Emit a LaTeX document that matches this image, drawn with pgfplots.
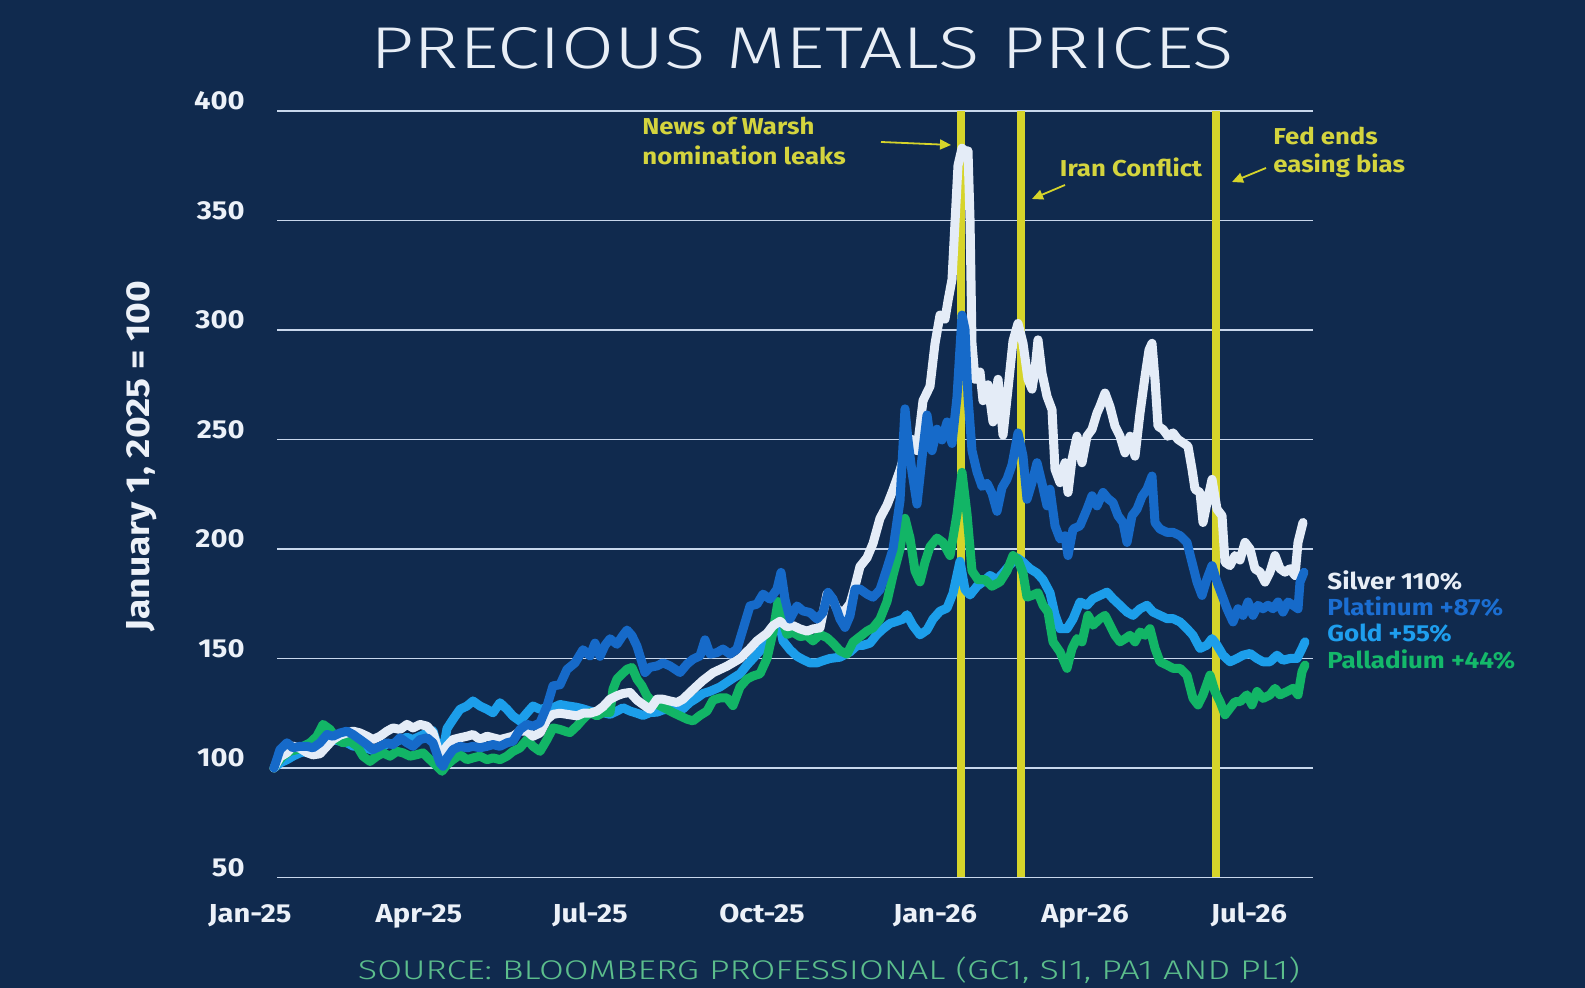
\documentclass[border=0pt]{standalone}
\usepackage{fontspec}
\usepackage{graphicx}
\usepackage{pgfplots}
\pgfplotsset{compat=1.18}
\usetikzlibrary{arrows.meta}
\setmainfont{Fira Sans}
\newfontfamily\bfam[FakeStretch=1.12]{Fira Sans}
\newfontfamily\lfam{Fira Sans Light}

\definecolor{bg}{RGB}{16,42,78}
\definecolor{gridcol}{RGB}{200,215,236}
\definecolor{silver}{RGB}{228,236,247}
\definecolor{platinum}{RGB}{22,106,201}
\definecolor{gold}{RGB}{28,158,234}
\definecolor{palladium}{RGB}{18,181,102}
\definecolor{ylw}{RGB}{214,212,42}
\definecolor{ylwtxt}{RGB}{212,212,62}
\definecolor{srcgreen}{RGB}{92,190,140}
\definecolor{titlecol}{RGB}{232,238,246}
\definecolor{tickcol}{RGB}{236,241,248}
\definecolor{pttxt}{RGB}{27,110,210}
\definecolor{gdtxt}{RGB}{30,158,238}
\definecolor{pdtxt}{RGB}{20,184,106}

\pgfplotstableread{
x v
274 100
280 108.4
287 111.5
293 109.2
300 109.9
307 109.9
313 109.2
320 111.5
327 115.3
333 114.5
340 116
347 116.8
353 115.3
360 113
367 110.7
373 108.4
380 109.9
387 111.5
393 110.7
400 113.8
407 111.5
413 109.9
420 113
427 113.8
433 111.5
440 102.3
443 100.8
447 104.6
453 108.4
460 109.9
467 109.2
473 109.9
480 109.2
487 109.9
493 110.7
500 109.9
507 111.5
513 112.2
520 117.6
527 119.9
533 119.1
540 120.6
547 128.3
553 137.5
560 138
567 145
575 148
583 154
590 151.2
595 157
600 151
605 156
610 159
617 156.5
622 160
627 163
632 160.4
637 155.6
645 143.6
650 146
657 146.6
663 148
670 146.6
680 143.6
687 147.4
693 149.7
700 151.2
705 158.5
710 152
717 152.7
723 154.3
730 152
737 154.3
743 163.4
750 174
757 174.8
763 179.4
770 177.1
777 181.7
781 189.3
785 177.1
790 168
797 174
803 171.7
810 171
817 168
823 171
828 180.2
833 177.1
840 168
845 164.2
850 169.5
855 181.7
860 181.7
867 179.4
873 178
880 181.4
887 191.2
893 200
900 222
905 264
908 249.8
912 235.2
917 220.5
922 241.6
927 261.2
932 244.9
937 254.7
942 249.8
947 258
952 248.2
957 269.4
962 306.8
965 300.3
968 269.4
972 244.9
977 235.2
982 228.6
987 230
992 225.4
997 217.2
1002 228
1007 231.9
1012 238.4
1018 253
1023 242.4
1027 222.7
1032 230.3
1037 239.4
1042 230
1047 219.7
1050 227.3
1055 210.6
1060 204.6
1065 206
1068 197
1073 209.1
1080 210.6
1087 218.2
1092 224.3
1097 219.7
1103 225.8
1108 223
1113 221.2
1118 215.2
1123 212.1
1127 203
1132 215.2
1137 218.2
1142 224
1147 227.3
1152 233.3
1155 212.1
1160 209.1
1167 207.6
1173 207.6
1180 206.1
1187 203
1192 193.9
1197 184.9
1202 178.8
1207 186.4
1212 192.4
1217 184.9
1222 178.8
1227 172.7
1233 166.7
1238 172.7
1243 169.7
1248 175.8
1253 169.7
1258 174.3
1263 172.7
1268 174.3
1273 172.7
1278 175.8
1283 171.2
1288 175.8
1293 174.3
1298 172.7
1300 184.9
1304 189.4
}\platinumdata

\pgfplotstableread{
x v
274 100
280 102.3
287 103.8
293 105.4
300 106.9
307 107.6
313 108.4
320 110.7
327 112.2
333 113
340 112.2
347 111.5
353 110
360 110
367 109
373 108
380 109
387 111
393 111
400 113
407 114
413 113
420 114.5
427 116
433 117
440 106
443 108
447 118
453 122.2
460 126.8
467 128.3
473 130.6
480 128.3
487 126.8
493 125.2
500 129.8
507 126.8
513 123.7
520 121.4
527 125.2
533 128.3
540 126.8
547 127.5
553 127.5
560 129
567 128.4
577 127.7
583 127
590 126
597 125.5
603 125.3
610 124.5
617 126
623 127.5
630 126
637 125
643 124
650 125.3
657 125.5
663 126.5
670 127
677 128.4
683 127
690 130
697 132
703 134
710 135
720 137
733 141
740 143
747 147
757 152
767 157
773 162
778 170
783 158
790 154
797 151
803 149.5
810 148
817 148
823 149
830 150
840 150.6
850 153
857 155.9
863 156
870 157
877 161
883 163.5
890 166
897 167
903 168
907 170
913 165
920 160.8
927 163
933 168
940 171.6
947 173
953 179.8
960 194.4
965 181.5
970 179
977 183
983 185
990 187.9
997 186
1003 189
1010 192.8
1017 196
1023 194
1030 191
1037 189
1043 186
1050 180
1055 170
1060 163.6
1067 163.6
1073 168
1080 175.8
1087 174.3
1093 177.3
1100 178.8
1107 180.3
1113 177.3
1120 174.3
1127 171.2
1133 169.7
1140 172.7
1147 174.3
1153 171.2
1160 169.7
1167 168.2
1173 168.2
1180 166.7
1187 163.6
1193 160.6
1200 154.6
1207 156.1
1212 159.1
1217 156.1
1223 151.5
1230 148.5
1237 150
1243 151.5
1250 152.3
1257 150
1263 148.5
1270 148.5
1277 151.5
1283 149.2
1290 150
1297 150
1302 154.6
1305 157.6
}\golddata

\pgfplotstableread{
x v
274 100
280 105
287 107
293 110
300 109
307 107
313 106
320 106.5
327 110
333 113
340 115
347 116
353 116.8
360 116
367 114.5
373 113
380 114.5
387 116.8
393 118.3
400 117.6
407 119.9
413 118.3
420 119.9
427 119.1
433 116
440 105.4
447 110
453 113
460 113.8
467 114.5
473 115.3
480 113
487 114.5
493 113.8
500 113
507 113.8
513 114.5
520 116.8
527 116.8
533 114.5
540 116
547 122.2
553 124.5
560 125
567 124.5
577 123.8
583 125
590 125
597 126
603 128
610 131.4
617 133
623 134
630 134.5
637 131
643 129
650 126.8
657 131.4
663 131.4
670 130.6
677 129.9
683 131.4
690 134.5
697 137.5
703 140
713 143.5
727 146.5
740 150
750 154.5
757 158
767 161.5
773 165
780 167
787 164.5
793 165
800 163.5
807 162.5
813 163.5
820 164
827 179.5
832 177.5
837 172.6
843 170.8
850 175
855 183
860 192
867 196
873 202.5
880 214
887 220
893 227
900 236
907 247
912 250
917 244.9
923 267.7
930 274.3
935 293.8
940 306.8
945 305
948 313.3
952 323.1
955 349.2
958 375.2
962 383
965 381.8
968 381.8
970 350.8
972 293.8
975 277.5
980 280.8
983 267.7
988 275
993 258
998 277.5
1003 252
1008 273
1013 295
1018 303
1023 294
1028 277.5
1032 273
1035 281.8
1038 295.5
1042 280.3
1047 269.7
1052 263.6
1055 236.4
1060 230.3
1065 239.4
1068 225.8
1072 240.9
1077 251.5
1082 239.4
1087 251.5
1092 254.6
1097 262.1
1100 265.2
1105 271.2
1110 265
1115 256.1
1120 251.5
1125 243.9
1130 251.5
1135 242.4
1140 262.1
1145 278.8
1149 290.9
1152 293.9
1155 277.3
1158 256.1
1163 254.6
1168 251.5
1173 253
1178 250
1183 248.5
1188 246.9
1192 236.4
1195 227.3
1200 225.8
1203 212.1
1207 221.2
1212 231.8
1217 218.2
1222 215.2
1225 193.9
1230 192.4
1235 197
1240 195
1245 203
1250 200
1255 190.9
1260 189.5
1265 184.9
1270 189.5
1275 197
1280 191
1285 189.4
1290 191
1295 187.9
1298 203
1303 212.1
}\silverdata

\pgfplotstableread{
x v
274 100
277 102.3
283 105.4
290 107.6
297 108.4
303 109.9
310 111.5
317 114.5
323 119.9
330 117.6
337 113
343 111.5
350 112.2
357 110
363 105.4
370 103
377 105.4
383 106.9
390 105.4
397 107.6
403 106.9
410 105.4
417 106.1
423 106.9
430 103.8
437 100.8
442 98.5
447 101.5
453 103.8
460 106.1
467 103.8
473 104.6
480 105.4
487 103.8
493 104.6
500 103.8
507 105.4
513 107.6
520 109.2
527 113
533 109.9
540 107.6
547 113
553 118.3
560 117.6
567 116.5
570 116.2
577 119.2
583 122.3
590 125.3
597 123.8
603 125.3
610 125.3
613 136
617 140.6
620 142
627 145.1
632 145.9
637 140.6
642 137.5
647 132.9
653 129.9
660 128.4
667 126.8
673 125.3
680 123.8
687 122.3
693 121.5
700 124
707 126
713 131
720 132
727 132
733 128.5
740 137
747 140.6
753 142
760 143
767 150
773 162
778 176
782 168
787 161
793 162
800 160
807 160.5
813 158
820 161
827 159.5
833 157
840 153.5
847 152
853 157.5
860 160
867 162.5
873 164
880 168
887 176
893 188
900 200
905 214
910 205
915 190
920 185
925 194
930 201
937 205
943 203
950 197
957 216
962 235
967 216
972 190
978 186
985 186
992 183
1000 185
1007 190
1013 197
1018 195
1023 189
1027 178
1033 179
1038 180
1043 174.3
1048 171.2
1053 157.6
1060 153
1067 145.5
1072 154.6
1077 159.1
1082 157.6
1088 169.7
1093 165.2
1100 168.2
1105 169.7
1110 165.2
1115 160.6
1120 157.6
1125 159
1130 160.6
1135 157.6
1140 162.1
1145 160.6
1150 163.6
1155 154.6
1160 148.5
1167 147
1173 145.5
1180 145.5
1187 142.4
1193 131.8
1198 128.8
1203 133.4
1210 142.4
1215 134.9
1220 130.3
1225 124.3
1230 127.3
1235 130.3
1240 130.3
1247 133.4
1252 128.8
1257 134.9
1263 131.8
1270 133.4
1275 136.4
1280 133.4
1287 134.9
1293 136.4
1298 133.4
1302 144
1305 147
}\palladiumdata

\begin{document}
\begin{tikzpicture}
\path[use as bounding box, fill=bg] (0,0) rectangle (792.5pt,494pt);
\begin{axis}[
  at={(138.5pt,55.25pt)}, anchor=south west,
  scale only axis, width=518pt, height=383.25pt,
  xmin=277, xmax=1313, ymin=50, ymax=400,
  clip=false,
  axis line style={draw=none},
  major tick length=0pt,
  xtick=\empty,
  ytick={50,100,150,200,250,300,350,400},
  ymajorgrids=true,
  grid style={line width=0.75pt, draw=gridcol},
  /pgf/number format/assume math mode=true,
  yticklabel style={font=\bfam\bfseries\fontsize{13}{15}\selectfont, text=tickcol,
    anchor=base east, inner sep=0pt, xshift=-16pt, yshift=0.5pt},
  every axis plot/.append style={line width=4.5pt, line join=round, line cap=round},
]
\draw[ylw, line width=3.8pt] (961,50) -- (961,400);
\draw[ylw, line width=3.8pt] (1021,50) -- (1021,400);
\draw[ylw, line width=3.8pt] (1216,50) -- (1216,400);
\addplot[gold] table[x=x,y=v] {\golddata};
\addplot[palladium] table[x=x,y=v] {\palladiumdata};
\addplot[silver] table[x=x,y=v] {\silverdata};
\addplot[platinum] table[x=x,y=v] {\platinumdata};
\end{axis}

% x tick labels
\begin{scope}[every node/.style={anchor=base, inner sep=0pt, text=tickcol,
   font=\bfam\bfseries\fontsize{13}{15}\selectfont}]
\node at (125pt,32.5pt) {Jan-25};
\node at (209.5pt,32.5pt) {Apr-25};
\node at (295pt,32.5pt) {Jul-25};
\node at (381pt,32.5pt) {Oct-25};
\node at (467.5pt,32.5pt) {Jan-26};
\node at (542.5pt,32.5pt) {Apr-26};
\node at (624.5pt,32.5pt) {Jul-26};
\end{scope}

% y axis label
\node[rotate=90, inner sep=0pt, text=tickcol, font=\bfam\bfseries\fontsize{16.6}{19}\selectfont]
  at (71pt,266pt) {January 1, 2025 = 100};

% title
\node[inner sep=0pt, text=titlecol] at (401pt,469.6pt)
  {\resizebox{432pt}{\height}{\lfam\fontsize{29.5}{32}\selectfont PRECIOUS METALS PRICES}};

% source
\node[anchor=base, inner sep=0pt, text=srcgreen] at (414.5pt,4pt)
  {\resizebox{471pt}{\height}{\lfam\fontsize{13.5}{15}\selectfont SOURCE: BLOOMBERG PROFESSIONAL (GC1, SI1, PA1 AND PL1)}};

% series labels
\begin{scope}[every node/.style={anchor=base west, inner sep=0pt,
   font=\bfam\bfseries\fontsize{11.6}{14}\selectfont}]
\node[text=titlecol] at (663.5pt,199pt) {Silver 110\%};
\node[text=pttxt] at (663.5pt,186.2pt) {Platinum +87\%};
\node[text=gdtxt] at (663.5pt,173pt) {Gold +55\%};
\node[text=pdtxt] at (663.5pt,159.5pt) {Palladium +44\%};
\end{scope}

% annotations
\begin{scope}[every node/.style={inner sep=0pt, text=ylwtxt,
   font=\bfam\bfseries\fontsize{11.5}{14}\selectfont}]
\node[anchor=base west] at (321pt,426.5pt) {News of Warsh};
\node[anchor=base west] at (321pt,411.5pt) {nomination leaks};
\node[anchor=base] at (565.5pt,405.5pt) {Iran Conflict};
\node[anchor=base west] at (636.5pt,421.5pt) {Fed ends};
\node[anchor=base west] at (636.5pt,407.5pt) {easing bias};
\end{scope}
\begin{scope}[ylw, line width=0.9pt, -{Triangle[length=5.5pt,width=5pt]}]
\draw (440.5pt,423pt) -- (475.5pt,421.5pt);
\draw (532.5pt,401.5pt) -- (516pt,394.5pt);
\draw (633pt,410pt) -- (616pt,403pt);
\end{scope}
\end{tikzpicture}
\end{document}
